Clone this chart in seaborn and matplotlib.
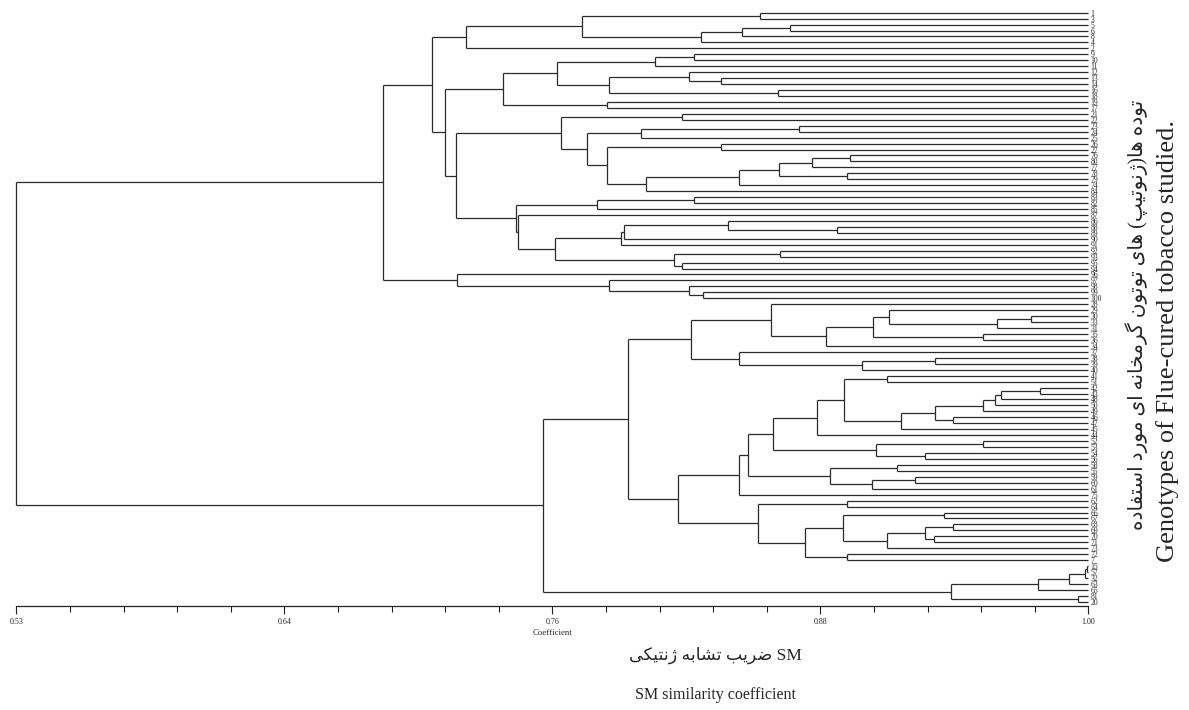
import matplotlib
matplotlib.use("Agg")
import matplotlib.pyplot as plt
import numpy as np
import seaborn as sns
from matplotlib.collections import LineCollection

# leaf labels, top to bottom
leaf_labels = [
    "1", "3", "5", "6", "8", "4", "2", "9", "10", "11", "12", "13", "14", "16", "18", "19", "17",
    "21", "22", "23", "24", "25", "26", "27", "76", "80", "77", "78", "79", "74", "84", "83", "82",
    "85", "87", "86", "88", "89", "90", "91", "92", "93", "95", "94", "96", "97", "98", "99", "100",
    "28", "29", "30", "33", "31", "35", "36", "34", "37", "38", "39", "40", "41", "51", "42", "43",
    "48", "50", "49", "46", "47", "45", "44", "52", "53", "54", "56", "58", "55", "59", "60", "61",
    "75", "62", "64", "66", "67", "68", "69", "70", "71", "73", "72", "7", "15", "57", "32", "63",
    "65", "81", "20",
]

# (node, left child, right child, SM similarity); ints are leaf positions
top_merges = [
    ("t01", 0, 1, 0.856), ("t23", 2, 3, 0.869), ("t234", "t23", 4, 0.848),
    ("t2345", "t234", 5, 0.830), ("t0_5", "t01", "t2345", 0.778), ("t0_6", "t0_5", 6, 0.727),
    ("t78", 7, 8, 0.827), ("t789", "t78", 9, 0.810), ("t1112", 11, 12, 0.839),
    ("t10_12", 10, "t1112", 0.825), ("t1314", 13, 14, 0.864), ("t10_14", "t10_12", "t1314", 0.790),
    ("t7_14", "t789", "t10_14", 0.767), ("t1516", 15, 16, 0.789), ("t7_16", "t7_14", "t1516", 0.7435),
    ("t1718", 17, 18, 0.822), ("t1920", 19, 20, 0.873), ("t19_21", "t1920", 21, 0.804),
    ("t2223", 22, 23, 0.839), ("t2425", 24, 25, 0.8955), ("t24_26", "t2425", 26, 0.879),
    ("t2728", 27, 28, 0.894), ("t24_28", "t24_26", "t2728", 0.8645), ("t24_29", "t24_28", 29, 0.847),
    ("t24_30", "t24_29", 30, 0.806), ("t22_30", "t2223", "t24_30", 0.789),
    ("t19_30", "t19_21", "t22_30", 0.780), ("t17_30", "t1718", "t19_30", 0.769),
    ("t3132", 31, 32, 0.827), ("t31_33", "t3132", 33, 0.7845), ("t3637", 36, 37, 0.890),
    ("t35_37", 35, "t3637", 0.842), ("t35_38", "t35_37", 38, 0.7965), ("t35_39", "t35_38", 39, 0.795),
    ("t4041", 40, 41, 0.865), ("t4243", 42, 43, 0.822), ("t40_43", "t4041", "t4243", 0.8185),
    ("t35_43", "t35_39", "t40_43", 0.766), ("t34_43", 34, "t35_43", 0.750),
    ("t31_43", "t31_33", "t34_43", 0.749), ("t17_43", "t17_30", "t31_43", 0.7228),
    ("t7_43", "t7_16", "t17_43", 0.718), ("t0_43", "t0_6", "t7_43", 0.7124),
    ("t4748", 47, 48, 0.831), ("t46_48", 46, "t4748", 0.825), ("t45_48", 45, "t46_48", 0.790),
    ("t44_48", 44, "t45_48", 0.7233), ("top", "t0_43", "t44_48", 0.6906),
]

bottom_merges = [
    ("b5152", 51, 52, 0.9747), ("b51_53", "b5152", 53, 0.960), ("b50_53", 50, "b51_53", 0.9127),
    ("b5455", 54, 55, 0.9537), ("b50_55", "b50_53", "b5455", 0.9055), ("b50_56", "b50_55", 56, 0.885),
    ("b49_56", 49, "b50_56", 0.861), ("b5859", 58, 59, 0.9328), ("b58_60", "b5859", 60, 0.9006),
    ("b57_60", 57, "b58_60", 0.847), ("b49_60", "b49_56", "b57_60", 0.826),
    ("b6162", 61, 62, 0.9116), ("b6364", 63, 64, 0.979), ("b63_65", "b6364", 65, 0.9617),
    ("b63_66", "b63_65", 66, 0.959), ("b63_67", "b63_66", 67, 0.9537), ("b6869", 68, 69, 0.9408),
    ("b63_69", "b63_67", "b6869", 0.933), ("b63_70", "b63_69", 70, 0.9177),
    ("b61_70", "b6162", "b63_70", 0.893), ("b61_71", "b61_70", 71, 0.881),
    ("b7273", 72, 73, 0.9537), ("b7475", 74, 75, 0.9284), ("b72_75", "b7273", "b7475", 0.907),
    ("b61_75", "b61_71", "b72_75", 0.8616), ("b7677", 76, 77, 0.916), ("b7879", 78, 79, 0.924),
    ("b78_80", "b7879", 80, 0.905), ("b76_80", "b7677", "b78_80", 0.8867),
    ("b61_80", "b61_75", "b76_80", 0.851), ("b61_81", "b61_80", 81, 0.847),
    ("b8283", 82, 83, 0.894), ("b8485", 84, 85, 0.9368), ("b8687", 86, 87, 0.9408),
    ("b8889", 88, 89, 0.9325), ("b86_89", "b8687", "b8889", 0.9284), ("b86_90", "b86_89", 90, 0.9116),
    ("b84_90", "b8485", "b86_90", 0.8926), ("b9192", 91, 92, 0.894), ("b84_92", "b84_90", "b9192", 0.876),
    ("b82_92", "b8283", "b84_92", 0.855), ("b61_92", "b61_81", "b82_92", 0.820),
    ("b49_92", "b49_60", "b61_92", 0.798), ("b9394", 93, 94, 0.9994), ("b93_95", "b9394", 95, 0.9985),
    ("b93_96", "b93_95", 96, 0.9916), ("b93_97", "b93_96", 97, 0.978), ("b9899", 98, 99, 0.9956),
    ("b93_99", "b93_97", "b9899", 0.9396), ("bottom", "b49_92", "b93_99", 0.761),
]

root_merge = [("root", "top", "bottom", 0.53)]

tick_values = [0.53, 0.6475, 0.765, 0.8825, 1.00]
tick_labels = ["0.53", "0.64", "0.76", "0.88", "1.00"]

title_fa = "ضریب تشابه ژنتیکی"
side_fa = "توده ها(ژنوتیپ) های توتون گرمخانه ای مورد استفاده"

# Arabic presentation forms: isolated, final, initial, medial
FORMS = {
    "ا": ("\uFE8D", "\uFE8E", None, None), "ب": ("\uFE8F", "\uFE90", "\uFE91", "\uFE92"),
    "پ": ("\uFB56", "\uFB57", "\uFB58", "\uFB59"), "ت": ("\uFE95", "\uFE96", "\uFE97", "\uFE98"),
    "خ": ("\uFEA5", "\uFEA6", "\uFEA7", "\uFEA8"), "د": ("\uFEA9", "\uFEAA", None, None),
    "ر": ("\uFEAD", "\uFEAE", None, None), "ژ": ("\uFB8A", "\uFB8B", None, None),
    "س": ("\uFEB1", "\uFEB2", "\uFEB3", "\uFEB4"), "ش": ("\uFEB5", "\uFEB6", "\uFEB7", "\uFEB8"),
    "ض": ("\uFEBD", "\uFEBE", "\uFEBF", "\uFEC0"), "ف": ("\uFED1", "\uFED2", "\uFED3", "\uFED4"),
    "ک": ("\uFB8E", "\uFB8F", "\uFB90", "\uFB91"), "گ": ("\uFB92", "\uFB93", "\uFB94", "\uFB95"),
    "م": ("\uFEE1", "\uFEE2", "\uFEE3", "\uFEE4"), "ن": ("\uFEE5", "\uFEE6", "\uFEE7", "\uFEE8"),
    "ه": ("\uFEE9", "\uFEEA", "\uFEEB", "\uFEEC"), "و": ("\uFEED", "\uFEEE", None, None),
    "ی": ("\uFBFC", "\uFBFD", "\uFBFE", "\uFBFF"),
}


def shape_rtl(text):
    """Join Persian letters and put them in visual (left-to-right) order."""
    out = []
    for i, ch in enumerate(text):
        if ch not in FORMS:
            out.append(ch)
            continue
        prev = text[i - 1] if i > 0 else ""
        nxt = text[i + 1] if i + 1 < len(text) else ""
        join_prev = prev in FORMS and FORMS[prev][2] is not None
        join_next = FORMS[ch][2] is not None and nxt in FORMS
        iso, fin, ini, med = FORMS[ch]
        if join_prev and join_next:
            out.append(med)
        elif join_prev:
            out.append(fin)
        elif join_next:
            out.append(ini)
        else:
            out.append(iso)
    mirror = {"(": ")", ")": "("}
    return "".join(mirror.get(c, c) for c in reversed(out))


# dendrogram segments
pos = {i: (1.0, float(i)) for i in range(len(leaf_labels))}
segments = []
for name, a, b, sim in top_merges + bottom_merges + root_merge:
    (xa, ya), (xb, yb) = pos[a], pos[b]
    segments.append([(sim, ya), (xa, ya)])
    segments.append([(sim, yb), (xb, yb)])
    segments.append([(sim, ya), (sim, yb)])
    pos[name] = (sim, (ya + yb) / 2)

sns.set_style("white")
plt.rcParams["font.family"] = ["Liberation Serif", "DejaVu Sans"]

fig = plt.figure(figsize=(11.89, 7.10), dpi=100)
ax = fig.add_axes([0.01371, 0.14648, 0.90160, 0.84648])
ax.add_collection(LineCollection(segments, colors="#2b2b2b", linewidths=0.9, clip_on=False))
ax.set_xlim(0.53, 1.00)
ax.set_ylim(99.71, -1.29)

for side in ["left", "top", "right"]:
    ax.spines[side].set_visible(False)
ax.spines["bottom"].set_color("#222222")
ax.spines["bottom"].set_linewidth(0.9)

ax.yaxis.tick_right()
ax.set_yticks(range(len(leaf_labels)))
ax.set_yticklabels(leaf_labels, fontsize=5.5)
ax.tick_params(axis="y", length=0, pad=1.5, right=True, left=False)

ax.set_xticks(tick_values)
ax.set_xticklabels(tick_labels)
ax.set_xticks(np.linspace(0.53, 1.00, 21), minor=True)
ax.tick_params(axis="x", which="major", bottom=True, direction="out", length=6, width=0.8,
               color="#222222", labelsize=5.8, pad=3)
ax.tick_params(axis="x", which="minor", bottom=True, direction="out", length=4, width=0.8,
               color="#222222")
ax.set_xlabel("Coefficient", fontsize=6.3, labelpad=1.5)

fig.text(715 / 1189, 1 - 655 / 710, shape_rtl(title_fa) + " SM", ha="center", va="center",
         fontsize=12.5)
fig.text(715 / 1189, 1 - 695 / 710, "SM similarity coefficient", ha="center", va="center",
         fontsize=11.5)
fig.text(1137 / 1189, 1 - 315 / 710, shape_rtl(side_fa), rotation=90, ha="center", va="center",
         fontsize=14.5)
fig.text(1168 / 1189, 1 - 341 / 710, "Genotypes of Flue-cured tobacco studied.", rotation=90,
         ha="center", va="center", fontsize=19)

fig.savefig("out.png", dpi=100)
